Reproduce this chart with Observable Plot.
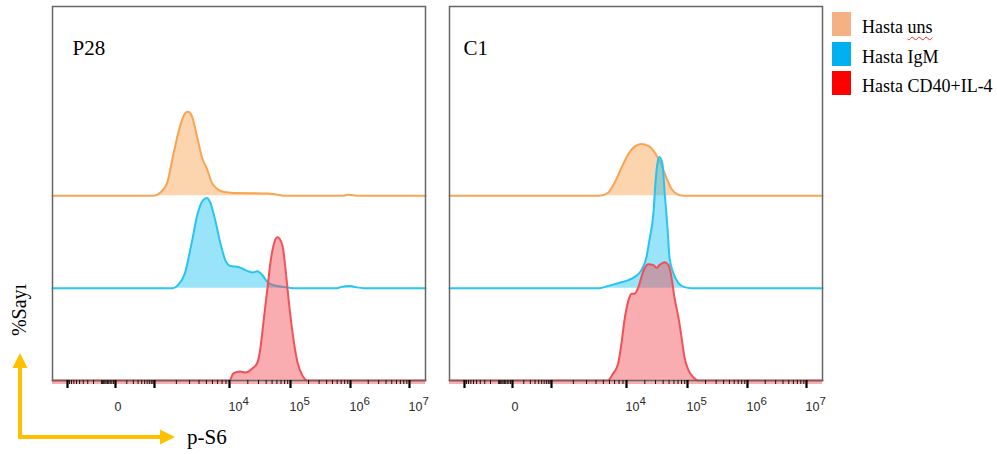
<!DOCTYPE html>
<html>
<head>
<meta charset="utf-8">
<script src="https://cdn.jsdelivr.net/npm/d3@7"></script>
<script src="https://cdn.jsdelivr.net/npm/@observablehq/plot@0.6"></script>
<style>
  html, body { margin: 0; padding: 0; background: #fff; }
  #chart { position: relative; width: 997px; height: 454px; overflow: hidden; background: #fff; }
  #chart svg { position: absolute; left: 0; top: 0; }
  .legend { position: absolute; left: 832px; top: 12px; font-family: "Liberation Serif", "Times New Roman", serif; font-size: 18px; color: #000; }
  .legend .row { display: flex; align-items: flex-end; height: 24px; margin-bottom: 5.5px; }
  .legend .swatch { width: 19px; height: 24px; margin-right: 11px; flex: none; }
  .legend .label { line-height: 18px; white-space: nowrap; }
  .legend .spell { text-decoration: underline wavy #e03030; text-decoration-thickness: 1px; text-underline-offset: 3px; }
</style>
</head>
<body>
<div id="chart"></div>
<script>
// Panels (one per sample) and stains (one histogram per stain)
const panels = ["P28", "C1"];
const stains = ["Hasta uns", "Hasta IgM", "Hasta CD40+IL-4"];
const lineColors = ["#f8a04c", "#1ec3f1", "#f24a4f"];
const legendColors = ["#f4b183", "#00b0f0", "#ff0000"];

// p-S6 intensity (x) and relative event count (y) for each histogram
const p28UnsX = [-2000, 950, 1200, 1500, 1800, 2200, 2600, 2850, 3200, 3750, 4400, 5100, 5900, 6900, 8300, 10400, 42000, 68500, 76700, 764000, 891000, 1120000, 1370000, 2e7];
const p28UnsCount = [0, 0, 3.3, 14, 43, 73, 89, 91, 87, 65, 41, 29, 14, 7.6, 4.3, 3.3, 2.4, 0.6, 0, 0, 1.1, 0.5, 0, 0];

const p28IgmX = [-2000, 1800, 2100, 2600, 3200, 3850, 4500, 5100, 5600, 6500, 7600, 8850, 10400, 14000, 18300, 23800, 28800, 34800, 42000, 52600, 82800, 112000, 607000, 681000, 1000000, 1220000, 1660000, 2e7];
const p28IgmCount = [0, 0, 3.3, 16, 49, 81, 95, 97.5, 93, 74, 49, 30, 24, 23, 19.5, 17, 18.4, 14, 6.5, 3.3, 1.1, 0, 0, 1.1, 2.2, 1.1, 0, 0];

const p28CdX = [-2000, 10000, 11600, 15100, 18300, 23800, 28800, 32200, 36100, 42000, 47000, 52600, 61200, 74000, 82800, 92700, 108000, 131000, 158000, 192000, 2e7];
const p28CdCount = [0, 0, 7.6, 9.8, 8.7, 13, 19.5, 35, 63, 100, 128, 146, 155, 146, 121, 89, 52, 19.5, 5.4, 0, 0];

const c1UnsX = [-2000, 4400, 5750, 6900, 8580, 10800, 13500, 17600, 23000, 27700, 34800, 45300, 54700, 71200, 86000, 2e7];
const c1UnsCount = [0, 0, 3.3, 13, 30, 45.5, 53, 56, 54, 49, 38, 19.5, 7.6, 1.1, 0, 0];

const c1IgmX = [-2000, 4400, 5700, 7800, 10800, 13500, 17600, 21300, 23800, 27700, 29900, 32200, 34800, 38900, 42000, 47000, 50700, 58900, 71200, 89300, 116000, 2e7];
const c1IgmCount = [0, 0, 2.2, 5.4, 8.7, 12, 19.5, 33.6, 52, 81, 114, 135, 142, 135, 106, 66, 33.6, 16, 5.4, 1.1, 0, 0];

const c1CdX = [-2000, 5700, 6700, 7800, 8600, 9400, 10800, 12100, 13500, 15700, 17600, 19700, 23000, 27700, 31000, 34800, 42000, 48800, 54700, 61200, 71200, 79800, 89300, 104000, 126000, 152000, 2e7];
const c1CdCount = [0, 0, 7.6, 18.4, 40, 65, 87, 94, 94, 101, 112, 121, 126, 125, 122, 125, 128, 125, 112, 90, 68, 47, 25, 11, 3.3, 0, 0];

// Axis ticks
const majorTicks = [-1000, 0, 1e3, 1e4, 1e5, 1e6, 1e7];
const labelTicks = [0, 1e4, 1e5, 1e6, 1e7];
const tickLabels = ["0", "10⁴", "10⁵", "10⁶", "10⁷"];
const minorTicks = [];
for (let k = 1; k <= 9; k++) minorTicks.push(-100 * k, -10 * k, 100 * k);
for (const decade of [1e3, 1e4, 1e5, 1e6]) for (let k = 2; k <= 9; k++) minorTicks.push(k * decade);

const series = [
  {panel: "P28", stain: stains[0], x: p28UnsX, count: p28UnsCount},
  {panel: "P28", stain: stains[1], x: p28IgmX, count: p28IgmCount},
  {panel: "P28", stain: stains[2], x: p28CdX, count: p28CdCount},
  {panel: "C1", stain: stains[0], x: c1UnsX, count: c1UnsCount},
  {panel: "C1", stain: stains[1], x: c1IgmX, count: c1IgmCount},
  {panel: "C1", stain: stains[2], x: c1CdX, count: c1CdCount}
];
const rows = series.flatMap(s => s.x.map((x, i) => ({panel: s.panel, stain: s.stain, x, count: s.count[i]})));

// Histograms are stacked: first stain on top, last stain at the bottom
const trackStep = 100;
const track = stain => (stains.length - 1 - stains.indexOf(stain)) * trackStep;

const histogramMarks = stains.flatMap((stain, i) => {
  const d = rows.filter(r => r.stain === stain);
  return [
    Plot.areaY(d, {fx: "panel", x: "x", y1: () => track(stain), y2: r => track(stain) + r.count,
      fill: lineColors[i], fillOpacity: 0.45, curve: "monotone-x"}),
    Plot.lineY(d, {fx: "panel", x: "x", y: r => track(stain) + r.count,
      stroke: lineColors[i], strokeWidth: 2, strokeOpacity: 0.95, curve: "monotone-x"})
  ];
});

const plot = Plot.plot({
  width: 997,
  height: 454,
  marginTop: 6,
  marginBottom: 74,
  marginLeft: 52,
  marginRight: 175,
  style: {fontFamily: "'Liberation Sans', Arial, sans-serif", fontSize: "12px", color: "#333", background: "transparent"},
  fx: {domain: panels, axis: null, padding: 0.0605},
  // biexponential-style display: near-linear around zero, logarithmic above 10^3
  x: {type: "symlog", constant: 100,
      domain: [-2000, -1000, 0, 1e3, 1e4, 1e5, 1e6, 1e7, 2e7],
      range: [52, 67, 115, 154, 229, 290, 350, 409, 425]},
  y: {domain: [0, 405], axis: null},
  marks: [
    ...histogramMarks,
    Plot.ruleY([0], {stroke: "#f24a4f", strokeOpacity: 0.45, strokeWidth: 3, dy: 2}),
    Plot.frame({stroke: "#666", strokeWidth: 1.5}),
    Plot.axisX({ticks: minorTicks, tickSize: 4, strokeWidth: 1, stroke: "#111", tickFormat: () => "", label: null}),
    Plot.axisX({ticks: majorTicks, tickSize: 8, strokeWidth: 2.2, stroke: "#000", tickFormat: () => "", label: null}),
    Plot.axisX({ticks: labelTicks, tickSize: 0, tickPadding: 22, textAnchor: "start", dx: -1,
      tickFormat: d => tickLabels[labelTicks.indexOf(d)], fill: "#2a2a2a", fontSize: 12.5, label: null}),
    Plot.text([{panel: "P28"}], {fx: "panel", text: "panel", frameAnchor: "top-left", textAnchor: "start",
      dx: 20, dy: 34, fontSize: 21, fontFamily: "'Liberation Serif', serif", fill: "#000"}),
    Plot.text([{panel: "C1"}], {fx: "panel", text: "panel", frameAnchor: "top-left", textAnchor: "start",
      dx: 14, dy: 34, fontSize: 21, fontFamily: "'Liberation Serif', serif", fill: "#000"})
  ]
});

// Render exponents as raised digits at near-full size
const sup = {"⁴": "4", "⁵": "5", "⁶": "6", "⁷": "7"};
plot.querySelectorAll("text").forEach(t => {
  const m = /^10([⁴⁵⁶⁷])$/.exec(t.textContent);
  if (!m) return;
  t.textContent = "10";
  const ts = document.createElementNS("http://www.w3.org/2000/svg", "tspan");
  ts.setAttribute("dy", "-0.58em");
  ts.setAttribute("font-size", "11.5px");
  ts.textContent = sup[m[1]];
  t.appendChild(ts);
});

const chart = document.getElementById("chart");
chart.appendChild(plot);

// Axis direction arrows with their titles
const overlay = d3.create("svg").attr("width", 997).attr("height", 454)
  .style("pointer-events", "none");
const gold = "#ffc000";
overlay.append("line").attr("x1", 20).attr("y1", 439).attr("x2", 20).attr("y2", 366)
  .attr("stroke", gold).attr("stroke-width", 4);
overlay.append("polygon").attr("points", "20,353 12.5,368 27.5,368").attr("fill", gold);
overlay.append("line").attr("x1", 18).attr("y1", 437).attr("x2", 162).attr("y2", 437)
  .attr("stroke", gold).attr("stroke-width", 4);
overlay.append("polygon").attr("points", "175,437 160,429.5 160,444.5").attr("fill", gold);
overlay.append("text").attr("transform", "translate(26,310) rotate(-90)")
  .attr("text-anchor", "middle").attr("font-family", "'Liberation Serif', serif")
  .attr("font-size", 20).attr("fill", "#000").text("%Sayı");
overlay.append("text").attr("x", 187).attr("y", 444)
  .attr("font-family", "'Liberation Serif', serif")
  .attr("font-size", 21).attr("fill", "#000").text("p-S6");
chart.appendChild(overlay.node());

// Legend
const legend = d3.select(chart).append("div").attr("class", "legend");
stains.forEach((stain, i) => {
  const row = legend.append("div").attr("class", "row");
  row.append("div").attr("class", "swatch").style("background", legendColors[i]);
  const label = row.append("div").attr("class", "label");
  const parts = stain.split(" ");
  label.append("span").text(parts[0] + " ");
  label.append("span").attr("class", parts[1] === "uns" ? "spell" : null).text(parts.slice(1).join(" "));
});
</script>
</body>
</html>
